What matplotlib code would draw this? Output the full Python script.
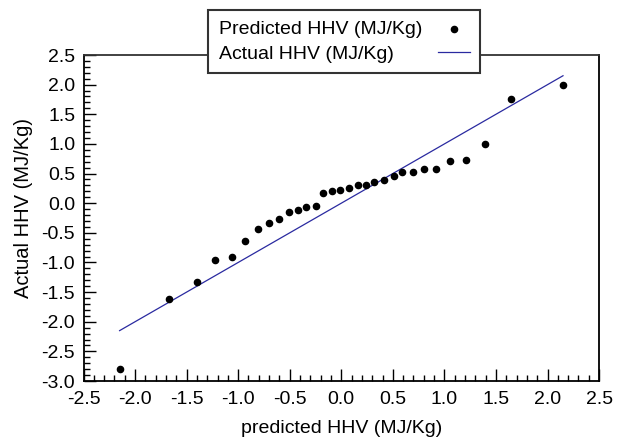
import matplotlib
matplotlib.use("Agg")
import matplotlib.pyplot as plt
from matplotlib.ticker import MultipleLocator, FormatStrFormatter

plt.rcParams['font.family'] = ['Liberation Sans', 'DejaVu Sans']

pred_x = [-2.15, -1.67, -1.40, -1.22, -1.06, -0.93, -0.81, -0.705, -0.60, -0.51,
          -0.42, -0.34, -0.25, -0.175, -0.09, -0.013, 0.075, 0.16, 0.24, 0.32,
          0.417, 0.51, 0.59, 0.70, 0.805, 0.915, 1.054, 1.21, 1.39, 1.65, 2.15]
pred_y = [-2.80, -1.62, -1.33, -0.956, -0.90, -0.64, -0.44, -0.34, -0.26, -0.15,
          -0.12, -0.07, -0.05, 0.17, 0.20, 0.22, 0.25, 0.31, 0.31, 0.36,
          0.39, 0.46, 0.52, 0.52, 0.57, 0.57, 0.71, 0.73, 0.995, 1.75, 1.99]
line_x = [-2.15, 2.15]
line_y = [-2.15, 2.15]

FS = 14

fig = plt.figure(figsize=(6.26, 4.45), dpi=100)
ax = fig.add_axes([0.1334, 0.1438, 0.8236, 0.7326])

ax.scatter(pred_x, pred_y, s=20, color='black', zorder=3,
           label='Predicted HHV (MJ/Kg)')
ax.plot(line_x, line_y, color='#2a2aa0', lw=0.9, label='Actual HHV (MJ/Kg)')

ax.set_xlim(-2.5, 2.5)
ax.set_ylim(-3.0, 2.5)
ax.xaxis.set_major_locator(MultipleLocator(0.5))
ax.xaxis.set_minor_locator(MultipleLocator(0.1))
ax.yaxis.set_major_locator(MultipleLocator(0.5))
ax.yaxis.set_minor_locator(MultipleLocator(0.1))
ax.xaxis.set_major_formatter(FormatStrFormatter('%.1f'))
ax.yaxis.set_major_formatter(FormatStrFormatter('%.1f'))
ax.tick_params(which='both', direction='in', top=False, right=False,
               labelsize=FS, width=1.0, color='black')
ax.tick_params(which='major', length=8.5)
ax.tick_params(which='minor', length=4.3)
ax.tick_params(axis='x', which='major', pad=7)
ax.tick_params(axis='y', which='major', pad=6)
for s in ax.spines.values():
    s.set_linewidth(1.3)
    s.set_color('black')
ax.spines['top'].set_color('#333333')

ax.set_xlabel('predicted HHV (MJ/Kg)', fontsize=FS, labelpad=9)
ax.set_ylabel('Actual HHV (MJ/Kg)', fontsize=14.5)
ax.yaxis.set_label_coords(-0.098, 0.53)

leg = ax.legend(loc='upper left', bbox_to_anchor=(0.2415, 1.138), markerfirst=False,
                frameon=True, fancybox=False, fontsize=FS, handlelength=1.65,
                borderpad=0.55, labelspacing=0.35, handletextpad=0.8,
                borderaxespad=0, scatterpoints=1)
leg.get_frame().set_edgecolor('#333333')
leg.get_frame().set_linewidth(1.5)
leg.get_frame().set_alpha(1)

# left-align legend labels while keeping handles in a right-hand column
fig.canvas.draw()
r = fig.canvas.get_renderer()
widths = [t.get_window_extent(r).width for t in leg.get_texts()]
col = leg._legend_handle_box.get_children()[0]
for hp, w in zip(col.get_children(), widths):
    hp.sep += (max(widths) - w) * 72.0 / fig.dpi

fig.savefig('out.png', dpi=100)
